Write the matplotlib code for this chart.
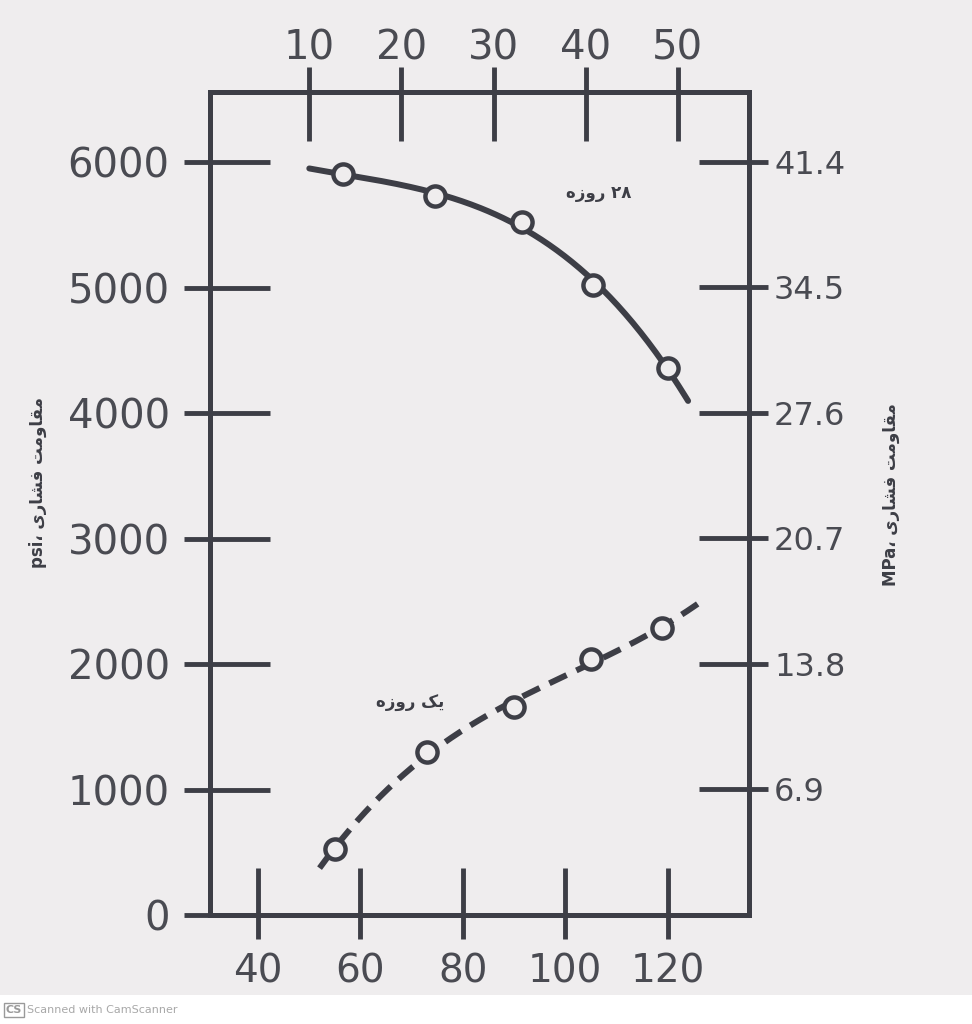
import numpy as np
import matplotlib
matplotlib.use("Agg")
import matplotlib.pyplot as plt
from matplotlib.ticker import FixedLocator, NullFormatter, FixedFormatter
from matplotlib.patches import Rectangle

# ---------------- data ----------------
temp_28d_F = [56.5, 74.5, 91.5, 105.5, 120.0]
strength_28d_psi = [5910, 5730, 5525, 5020, 4360]
temp_1d_F = [55.0, 73.0, 90.0, 105.0, 119.0]
strength_1d_psi = [530, 1300, 1660, 2040, 2290]
curve_28d_span_F = [50.0, 124.0]
curve_1d_span_F = [52.0, 126.0]

psi_ticks = [0, 1000, 2000, 3000, 4000, 5000, 6000]
mpa_ticks = [6.9, 13.8, 20.7, 27.6, 34.5, 41.4]
mpa_labels = ["6.9", "13.8", "20.7", "27.6", "34.5", "41.4"]
fahrenheit_ticks = [40, 60, 80, 100, 120]
celsius_ticks = [10, 20, 30, 40, 50]
PSI_TO_MPA = 0.006895

# Persian labels (presentation forms, visual order)
moghavemat = "\uFE96\uFEE3\uFEED\uFE8E\uFED8\uFEE3"
fashari = "\uFBFC\uFEAD\uFE8E\uFEB8\uFED3"
rouzeh = "\uFEE9\uFEAF\uFEED\uFEAD"
label_28d = rouzeh + " \u06F2\u06F8"
label_1d = rouzeh + " \uFB8F\uFBFE"
ylabel_left = "psi\u060C " + fashari + " " + moghavemat
ylabel_right = "MPa\u060C " + fashari + " " + moghavemat

# ---------------- style ----------------
BG = "#efedee"
INK = "#3d3e46"
TXT = "#4a4b52"
plt.rcParams["font.family"] = ["DejaVu Sans"]

fig = plt.figure(figsize=(9.72, 10.24), dpi=100, facecolor=BG)
fig.patches.append(Rectangle((0, 0), 1, 29 / 1024, transform=fig.transFigure,
                             facecolor="white", edgecolor="none", zorder=0))

ax = fig.add_axes([210 / 972, 1 - 915 / 1024, 539 / 972, 823 / 1024])
ax.set_facecolor("none")
ax.set_xlim(30.6, 135.9)
ax.set_ylim(0, 6560)

for s in ax.spines.values():
    s.set_linewidth(3.6)
    s.set_color(INK)

# fitted smooth curves through the measured points
p28 = np.polyfit(temp_28d_F, strength_28d_psi, 3)
x28 = np.linspace(curve_28d_span_F[0], curve_28d_span_F[1], 200)
ax.plot(x28, np.polyval(p28, x28), color=INK, lw=4.3, solid_capstyle="round", zorder=2)

p1 = np.polyfit(temp_1d_F, strength_1d_psi, 3)
x1 = np.linspace(curve_1d_span_F[0], curve_1d_span_F[1], 200)
ax.plot(x1, np.polyval(p1, x1), color=INK, lw=4.3, linestyle=(0, (3.2, 1.8)),
        dash_capstyle="butt", zorder=2)

for xs, ys in [(temp_28d_F, strength_28d_psi), (temp_1d_F, strength_1d_psi)]:
    ax.plot(xs, ys, "o", ms=14.5, mfc=BG, mec=INK, mew=3.2, zorder=3)

ax.text(106.6, 5753, label_28d, fontsize=12, fontweight="bold", color=INK,
        ha="center", va="center")
ax.text(69.7, 1689, label_1d, fontsize=12, fontweight="bold", color=INK,
        ha="center", va="center")

TW = 3.5

def dual_ticks(axis, locs, in_len, out_len, pad, fs, labels=None):
    axis.set_major_locator(FixedLocator(locs))
    axis.set_minor_locator(FixedLocator(locs))
    axis.remove_overlapping_locs = False
    if labels is not None:
        axis.set_major_formatter(FixedFormatter(labels))
    axis.set_minor_formatter(NullFormatter())
    axis.set_tick_params(which="major", direction="in", length=in_len, width=TW,
                         color=INK, pad=pad, labelsize=fs, labelcolor=TXT)
    axis.set_tick_params(which="minor", direction="out", length=out_len, width=TW,
                         color=INK)

# bottom (°F)
dual_ticks(ax.xaxis, fahrenheit_ticks, 34, 17, 27, 28)
# left (psi)
dual_ticks(ax.yaxis, psi_ticks, 43, 19, 29, 29)

# top (°C)
secx = ax.secondary_xaxis("top", functions=(lambda f: (f - 32) / 1.8,
                                            lambda c: c * 1.8 + 32))
secx.spines["top"].set_linewidth(3.6)
secx.spines["top"].set_color(INK)
dual_ticks(secx.xaxis, celsius_ticks, 35, 18, 17, 29)

# right (MPa)
secy = ax.secondary_yaxis("right", functions=(lambda p: p * PSI_TO_MPA,
                                              lambda m: m / PSI_TO_MPA))
secy.spines["right"].set_linewidth(3.6)
secy.spines["right"].set_color(INK)
dual_ticks(secy.yaxis, mpa_ticks, 36, 14, 18, 23, labels=mpa_labels)

fig.text(38 / 972, 1 - 482 / 1024, ylabel_left, rotation=90, fontsize=12,
         fontweight="bold", color=INK, ha="center", va="center")
fig.text(891 / 972, 1 - 495 / 1024, ylabel_right, rotation=90, fontsize=12,
         fontweight="bold", color=INK, ha="center", va="center")

# scanner watermark
fig.text(6 / 972, 1 - 1010 / 1024, "CS", fontsize=8, fontweight="bold", color="#9a9a9a",
         ha="left", va="center",
         bbox=dict(boxstyle="square,pad=0.15", fc="white", ec="#9a9a9a", lw=1))
fig.text(27 / 972, 1 - 1010 / 1024, "Scanned with CamScanner", fontsize=8,
         color="#a8a8a8", ha="left", va="center")

fig.savefig("out.png", dpi=100, facecolor=BG)
